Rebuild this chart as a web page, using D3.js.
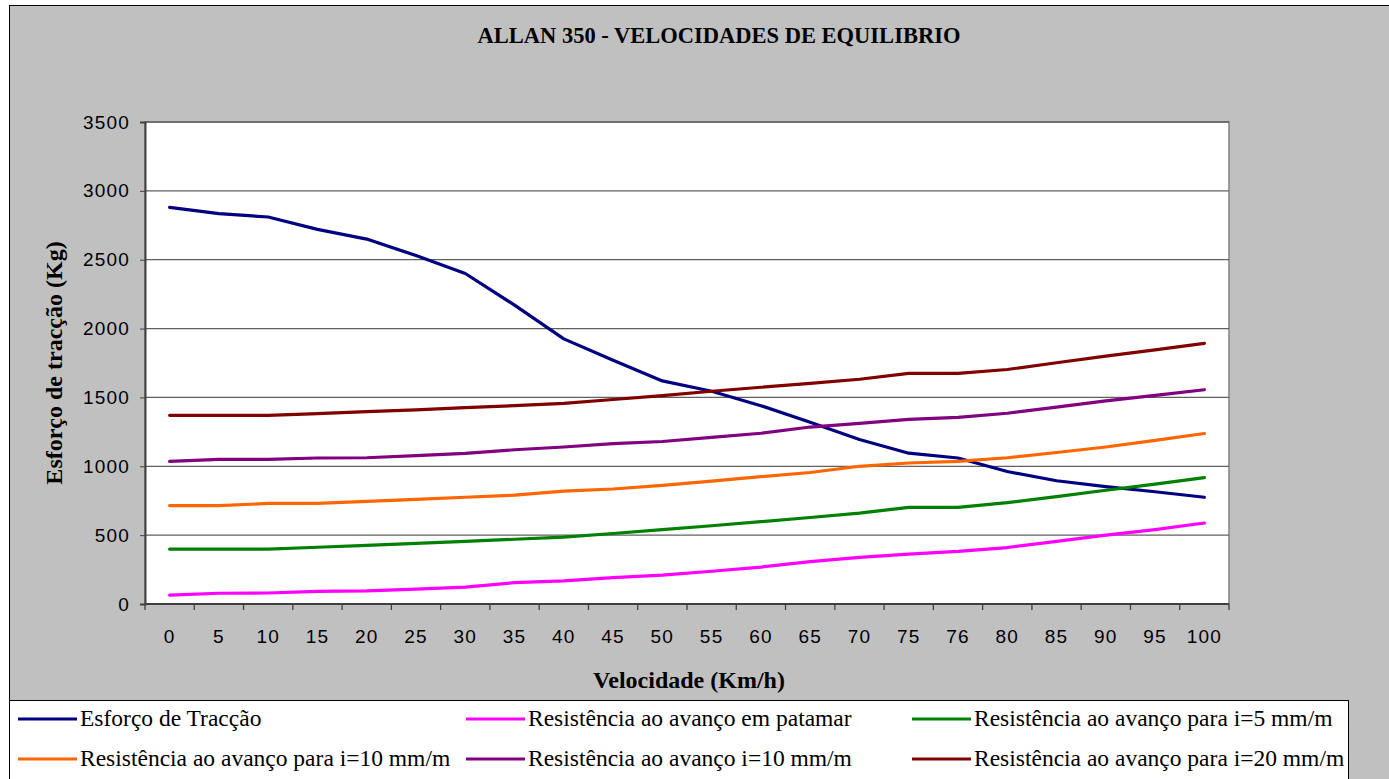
<!DOCTYPE html>
<html>
<head>
<meta charset="utf-8">
<script src="https://cdn.jsdelivr.net/npm/d3@7"></script>
<style>
  body { margin: 0; background: #fff; }
</style>
</head>
<body>
<div id="grafico"></div>
<script>
let velocidades = ["0","5","10","15","20","25","30","35","40","45","50","55","60","65","70","75","76","80","85","90","95","100"];

let esforcoTraccao = [2880,2835,2810,2720,2650,2530,2400,2170,1925,1770,1620,1545,1440,1320,1195,1095,1060,962,895,852,815,775];
let resPatamar     = [65,78,80,92,95,108,122,155,168,192,210,238,268,308,338,362,382,410,455,500,540,588];
let resI5          = [398,398,398,412,425,440,455,470,485,512,540,568,598,628,660,702,702,736,780,826,870,918];
let resI10para     = [715,715,730,730,745,760,775,790,820,835,862,892,925,955,1000,1024,1036,1062,1100,1140,1188,1238];
let resI10         = [1035,1050,1050,1060,1062,1078,1094,1120,1140,1165,1180,1210,1240,1285,1312,1341,1355,1385,1430,1475,1515,1556];
let resI20         = [1370,1370,1370,1382,1397,1410,1426,1440,1457,1485,1513,1545,1574,1602,1632,1675,1675,1703,1752,1800,1845,1893];

let nomes = ["Esforço de Tracção","Resistência ao avanço em patamar","Resistência ao avanço para i=5 mm/m",
             "Resistência ao avanço para i=10 mm/m","Resistência ao avanço i=10 mm/m","Resistência ao avanço para i=20 mm/m"];
let cores = ["#000080","#FF00FF","#008000","#FF6600","#800080","#800000"];
let series = [esforcoTraccao, resPatamar, resI5, resI10para, resI10, resI20];

let yTicks = [0,500,1000,1500,2000,2500,3000,3500];

let largura = 1389, altura = 779;
let serif = "Liberation Serif, Times New Roman";
let sans = "Liberation Sans, Arial";
let svg = d3.select("#grafico").append("svg").attr("width", largura).attr("height", altura);

// fundo cinzento da area do grafico
svg.append("rect").attr("x",9.5).attr("y",5.5).attr("width",1400).attr("height",800)
  .attr("fill","#C0C0C0").attr("stroke","#000").attr("stroke-width",1);

let plot = {x0:145, y0:122, x1:1229, y1:604};

svg.append("rect").attr("x",plot.x0).attr("y",plot.y0)
  .attr("width",plot.x1-plot.x0).attr("height",plot.y1-plot.y0)
  .attr("fill","#fff").attr("stroke","#808080").attr("stroke-width",1.5);

let x = d3.scalePoint().domain(velocidades).range([plot.x0, plot.x1]).padding(0.5);
let xBand = d3.scaleBand().domain(velocidades).range([plot.x0, plot.x1]);
let y = d3.scaleLinear().domain([0,3500]).range([plot.y1, plot.y0]);

// linhas de grelha
svg.append("g").selectAll("line").data(yTicks.slice(1)).join("line")
  .attr("x1",plot.x0).attr("x2",plot.x1)
  .attr("y1",d => y(d)).attr("y2",d => y(d))
  .attr("stroke","#606060").attr("stroke-width",1.3);

// eixo y
let eixoY = svg.append("g").attr("transform","translate("+plot.x0+",0)")
  .call(d3.axisLeft(y).tickValues(yTicks).tickFormat(d3.format("d")).tickSize(5).tickPadding(10));
eixoY.select(".domain").attr("stroke","#404040").attr("stroke-width",2);
eixoY.selectAll(".tick line").attr("stroke","#404040");
eixoY.selectAll("text").attr("font-family",sans).attr("font-size",19)
  .attr("letter-spacing",1.2).attr("fill","#000");

// eixo x : traços entre categorias
let eixoX = svg.append("g").attr("transform","translate(0,"+plot.y1+")");
eixoX.append("line").attr("x1",plot.x0).attr("x2",plot.x1).attr("y1",0).attr("y2",0)
  .attr("stroke","#404040").attr("stroke-width",2);
let fronteiras = velocidades.map(v => xBand(v)).concat([plot.x1]);
eixoX.selectAll("line.tk").data(fronteiras).join("line").attr("class","tk")
  .attr("x1",d => d).attr("x2",d => d).attr("y1",0).attr("y2",6)
  .attr("stroke","#404040").attr("stroke-width",1.3);
eixoX.selectAll("text").data(velocidades).join("text")
  .attr("x",d => x(d)).attr("y",39)
  .attr("text-anchor","middle")
  .attr("font-family",sans).attr("font-size",19).attr("letter-spacing",1.2)
  .text(d => d);

// series
let linha = d3.line().x((d,i) => x(velocidades[i])).y(d => y(d));
series.forEach((s,k) => {
  svg.append("path").datum(s)
    .attr("d", linha)
    .attr("fill","none")
    .attr("stroke",cores[k])
    .attr("stroke-width",3.2)
    .attr("stroke-linejoin","round")
    .attr("stroke-linecap","round");
});

// titulos
svg.append("text").attr("x",719).attr("y",43).attr("text-anchor","middle")
  .attr("font-family",serif).attr("font-weight","bold").attr("font-size",22.5)
  .text("ALLAN 350 - VELOCIDADES DE EQUILIBRIO");
svg.append("text").attr("x",689).attr("y",688).attr("text-anchor","middle")
  .attr("font-family",serif).attr("font-weight","bold").attr("font-size",24)
  .text("Velocidade (Km/h)");
svg.append("text").attr("transform","translate(62,363) rotate(-90)").attr("text-anchor","middle")
  .attr("font-family",serif).attr("font-weight","bold").attr("font-size",24)
  .text("Esforço de tracção (Kg)");

// legenda
svg.append("rect").attr("x",9.5).attr("y",700.5).attr("width",1339).attr("height",100)
  .attr("fill","#fff").attr("stroke","#000").attr("stroke-width",1);
let colX = [18, 466, 912];
let linY = [719, 759];
nomes.forEach((n,k) => {
  let cx = colX[k % 3], cy = linY[Math.floor(k / 3)];
  svg.append("line").attr("x1",cx).attr("x2",cx+59).attr("y1",cy).attr("y2",cy)
    .attr("stroke",cores[k]).attr("stroke-width",3.2);
  svg.append("text").attr("x",cx+62).attr("y",cy+7)
    .attr("font-family",serif).attr("font-size",23.5)
    .text(n);
});
</script>
</body>
</html>
